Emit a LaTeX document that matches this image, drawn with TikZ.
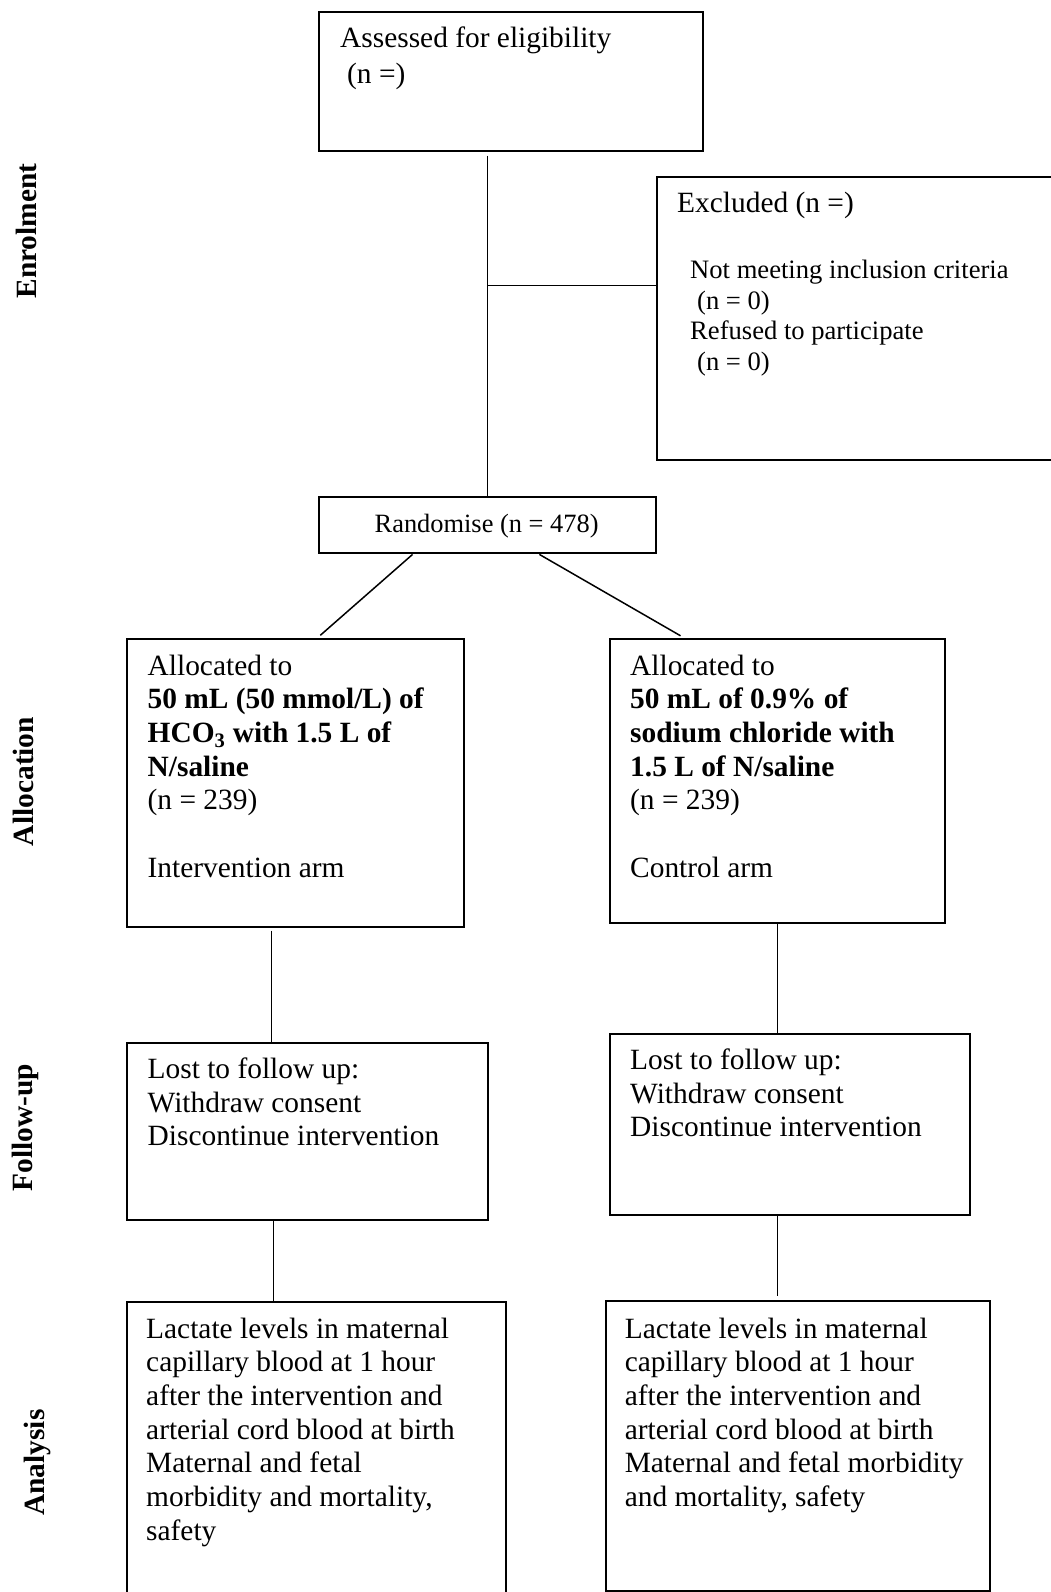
\documentclass[tikz,border=0pt]{standalone}
\usepackage{fontspec}
\setmainfont{Liberation Serif}
\usetikzlibrary{calc}
\tikzset{
  box/.style={draw, line width=2pt, rectangle, inner sep=0pt, anchor=north west},
  conn/.style={line width=1.5pt},
  txt/.style={anchor=base west, inner sep=0pt, align=flush left, text width=420pt,
              font=\fontsize{29.4}{33.7}\selectfont},
  smalltxt/.style={anchor=base west, inner sep=0pt, align=flush left, text width=420pt,
              font=\fontsize{26.6}{30.5}\selectfont},
  lab/.style={rotate=90, inner sep=0pt, font=\fontsize{29.4}{33.7}\selectfont\bfseries}
}
\begin{document}
\begin{tikzpicture}[x=1pt,y=-1pt]
\useasboundingbox (0,0) rectangle (1051,1592);
\clip (0,0) rectangle (1051,1592);

% side labels
\node[lab] (lenrol) at (26,231) {Enrolment};
\node[lab] (lalloc) at (23,781.5) {Allocation};
\node[lab] (lfollow) at (25,1127.5) {Follow-up};
\node[lab] (lanal) at (37,1462.5) {Analysis};

% boxes
\node[box, minimum width=384pt, minimum height=138.6pt] (top) at (318,11.4) {};
\node[box, minimum width=420pt, minimum height=283pt] (excl) at (655.5,176) {};
\node[box, minimum width=337pt, minimum height=56pt] (rand) at (318,496.4) {};
\node[box, minimum width=336.5pt, minimum height=287.4pt] (la) at (126,638.3) {};
\node[box, minimum width=335.8pt, minimum height=283.4pt] (ra) at (608.6,638.3) {};
\node[box, minimum width=361.3pt, minimum height=177.6pt] (lf) at (126,1041.7) {};
\node[box, minimum width=359.9pt, minimum height=181.3pt] (rf) at (608.6,1032.7) {};
\node[box, minimum width=378.7pt, minimum height=330pt] (ln) at (126,1300.7) {};
\node[box, minimum width=384pt, minimum height=290pt] (rn) at (604.6,1300) {};

% texts
\node[txt] (ttop) at (340,48) {Assessed for eligibility\\[2.3pt]\hspace*{7pt}(n =)};
\node[txt] (texcl) at (677,212.5) {Excluded (n =)};
\node[smalltxt] (texcl2) at (690,278.6) {Not meeting inclusion criteria\\\hspace*{7pt}(n = 0)\\Refused to participate\\\hspace*{7pt}(n = 0)};
\node[anchor=base, inner sep=0pt, font=\fontsize{26.4}{30}\selectfont] (trand) at (486.6,532) {Randomise (n = 478)};
\node[txt] (tla) at (147.5,675) {Allocated to\\
  \textbf{50 mL (50 mmol/L) of}\\
  \textbf{HCO\textsubscript{3} with 1.5 L of}\\
  \textbf{N/saline}\\
  (n = 239)\\[33.7pt]
  Intervention arm};
\node[txt] (tra) at (630,675) {Allocated to\\
  \textbf{50 mL of 0.9\% of}\\
  \textbf{sodium chloride with}\\
  \textbf{1.5 L of N/saline}\\
  (n = 239)\\[33.7pt]
  Control arm};
\node[txt] (tlf) at (147.5,1078.3) {Lost to follow up:\\Withdraw consent\\Discontinue intervention};
\node[txt] (trf) at (630,1069.3) {Lost to follow up:\\Withdraw consent\\Discontinue intervention};
\node[txt] (tln) at (146,1338) {Lactate levels in maternal\\capillary blood at 1 hour\\after the intervention and\\arterial cord blood at birth\\Maternal and fetal\\morbidity and mortality,\\safety};
\node[txt] (trn) at (624.6,1338) {Lactate levels in maternal\\capillary blood at 1 hour\\after the intervention and\\arterial cord blood at birth\\Maternal and fetal morbidity\\and mortality, safety};

% connectors
\coordinate (j) at (rand.north |- 0,285.7);
\draw[conn] ([yshift=-3.5pt]rand.north |- top.south) -- (rand.north);
\draw[conn] (j) -- (j -| excl.west);
\draw[conn] ($(rand.south west)!0.279!(rand.south east)$) -- ([yshift=3pt]$(la.north west)!0.574!(la.north east)$);
\draw[conn] ($(rand.south west)!0.653!(rand.south east)$) -- ([yshift=2.5pt]$(ra.north west)!0.213!(ra.north east)$);
\draw[conn] ([xshift=145.4pt,yshift=-3pt]la.south west) -- ([xshift=145.4pt]la.south west |- lf.north);
\draw[conn] (ra.south) -- (ra.south |- rf.north);
\draw[conn] ([xshift=147.5pt]lf.south west) -- ([xshift=147.5pt]lf.south west |- ln.north);
\draw[conn] (ra.south |- rf.south) -- ([yshift=4pt]ra.south |- rn.north);
\end{tikzpicture}
\end{document}
